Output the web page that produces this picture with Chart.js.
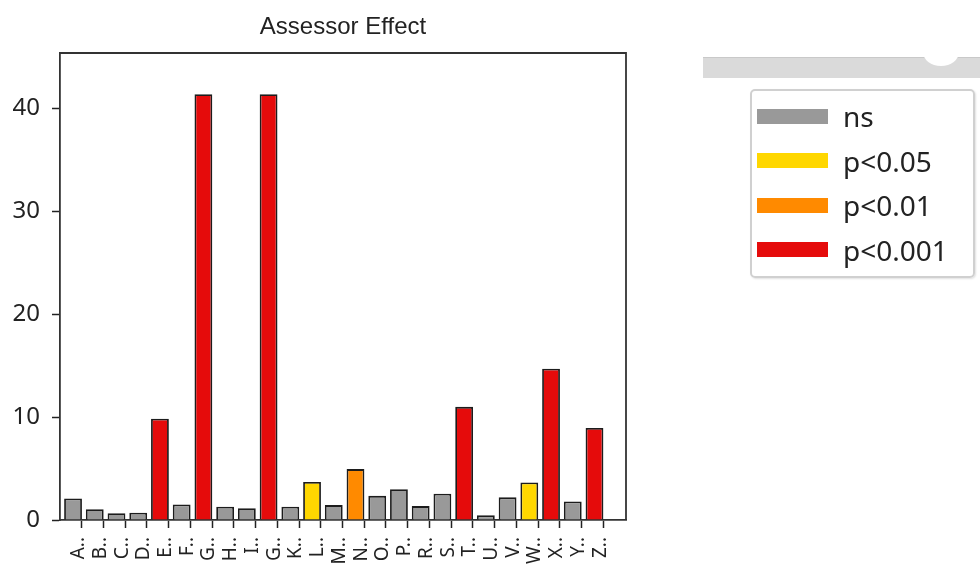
<!DOCTYPE html>
<html>
<head>
<meta charset="utf-8">
<script src="https://cdn.jsdelivr.net/npm/chart.js@4/dist/chart.umd.min.js"></script>
<style>
  html, body { margin: 0; padding: 0; background: #fff; }
  #wrap { position: relative; width: 980px; height: 567px; overflow: hidden; }
  #band { position: absolute; left: 703px; top: 57px; width: 277px; height: 20px;
          background: #dadada; border-top: 1px solid #c9c9c9; }
  #notch { position: absolute; left: 923px; top: 38px; width: 36px; height: 28px;
           background: #fff; border-radius: 50%; }
  #legend { position: absolute; left: 750px; top: 89px; width: 225px; height: 189px;
            border: 2px solid #d0d0d0; border-radius: 5px; box-sizing: border-box;
            box-shadow: 1px 1px 2px rgba(0,0,0,0.12);
            font-family: "Noto Sans", sans-serif; font-size: 28px; color: #222; }
  .item { position: absolute; left: 5px; height: 44px; display: flex; align-items: center; }
  .sw { width: 71px; height: 15px; margin-right: 15px; }
</style>
</head>
<body>
<div id="wrap">
  <canvas id="c" width="980" height="567"></canvas>
  <div id="band"></div>
  <div id="notch"></div>
  <div id="legend"></div>
</div>
<script>
// assessors (labels as shown on the x axis)
const labels = ['A..', 'B..', 'C..', 'D..', 'E..', 'F..', 'G..', 'H..', 'I..', 'G..', 'K..', 'L..', 'M..',
                'N..', 'O..', 'P..', 'R..', 'S..', 'T..', 'U..', 'V..', 'W..', 'X..', 'Y..', 'Z..'];
const values = [2.1, 1.05, 0.65, 0.7, 9.85, 1.5, 41.4, 1.3, 1.15, 41.4, 1.3, 3.7, 1.45,
                4.95, 2.35, 3.0, 1.35, 2.55, 11.0, 0.45, 2.2, 3.65, 14.7, 1.8, 8.95];
const signif = ['ns', 'ns', 'ns', 'ns', 'p<0.001', 'ns', 'p<0.001', 'ns', 'ns', 'p<0.001', 'ns', 'p<0.05', 'ns',
                'p<0.01', 'ns', 'ns', 'ns', 'ns', 'p<0.001', 'ns', 'ns', 'p<0.05', 'p<0.001', 'ns', 'p<0.001'];
const yTicks = [0, 10, 20, 30, 40];

const legendLabels = ['ns', 'p<0.05', 'p<0.01', 'p<0.001'];
const legendColors = ['#999999', '#ffd700', '#ff8a00', '#e50b0b'];

const colorOf = s => legendColors[legendLabels.indexOf(s)];
const TICK_SHIFT = 0.4; // ticks sit on the right edge of each bar

// box around the plot area (top + right sides)
const frame = {
  id: 'frame',
  afterDraw(chart) {
    const { ctx, chartArea: a } = chart;
    ctx.save();
    ctx.strokeStyle = '#333';
    ctx.lineWidth = 1.8;
    ctx.beginPath();
    ctx.moveTo(a.left, a.top);
    ctx.lineTo(a.right, a.top);
    ctx.lineTo(a.right, a.bottom);
    ctx.stroke();
    ctx.restore();
  }
};

new Chart(document.getElementById('c'), {
  type: 'bar',
  data: {
    datasets: [{
      data: values.map((v, i) => ({ x: i, y: v })),
      backgroundColor: signif.map(colorOf),
      borderColor: '#1c1c1c',
      borderWidth: 1.8,
      barPercentage: 0.82,
      categoryPercentage: 1
    }]
  },
  options: {
    responsive: false,
    animation: false,
    layout: { padding: { left: 0, right: 354, top: 0, bottom: 0 } },
    plugins: {
      legend: { display: false },
      tooltip: { enabled: false },
      title: {
        display: true,
        text: 'Assessor Effect',
        fullSize: false,
        color: '#222',
        font: { family: "'Liberation Sans', Arial, sans-serif", size: 24, weight: 'normal', lineHeight: 1.2 },
        padding: { top: 13, bottom: 11.2 }
      }
    },
    scales: {
      x: {
        type: 'linear',
        offset: false,
        min: -0.6,
        max: 25.45,
        afterFit: s => { s.height = 47; },
        afterBuildTicks: s => { s.ticks = labels.map((_, i) => ({ value: i + TICK_SHIFT })); },
        grid: { offset: false, drawOnChartArea: false, drawTicks: true, tickLength: 8, tickWidth: 1.5, tickColor: '#222' },
        border: { display: true, color: '#333', width: 1.8 },
        ticks: {
          autoSkip: false,
          minRotation: 90,
          maxRotation: 90,
          padding: 9,
          labelOffset: -3,
          color: '#222',
          font: { family: "'Noto Sans', sans-serif", size: 19 },
          callback: v => labels[Math.round(v - TICK_SHIFT)]
        }
      },
      y: {
        min: 0,
        max: 45.4,
        afterFit: s => { s.width = 60; },
        afterBuildTicks: s => { s.ticks = yTicks.map(v => ({ value: v })); },
        grid: { drawOnChartArea: false, drawTicks: true, tickLength: 8, tickWidth: 1.5, tickColor: '#222' },
        border: { display: true, color: '#333', width: 1.8 },
        ticks: {
          padding: 12,
          color: '#222',
          font: { family: "'Noto Sans', sans-serif", size: 24 }
        }
      }
    }
  },
  plugins: [frame]
});

// legend box on the right
const legendEl = document.getElementById('legend');
legendLabels.forEach((lab, i) => {
  const row = document.createElement('div');
  row.className = 'item';
  row.style.top = (3 + i * 44.5) + 'px';
  row.innerHTML = '<div class="sw" style="background:' + legendColors[i] + '"></div><span>' + lab + '</span>';
  legendEl.appendChild(row);
});
</script>
</body>
</html>
